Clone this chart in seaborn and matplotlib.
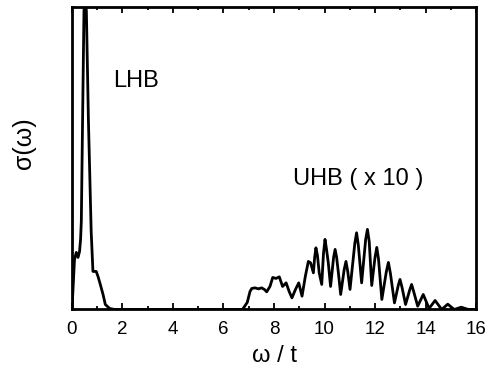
import matplotlib
matplotlib.use("Agg")
import matplotlib.pyplot as plt
import seaborn as sns
import pandas as pd
from matplotlib.ticker import MultipleLocator

# lower Hubbard band (arbitrary units)
lhb_omega = [0.0, 0.04, 0.10, 0.17, 0.24, 0.30, 0.34, 0.37, 0.42, 0.475, 0.52,
             0.57, 0.65, 0.76, 0.83, 0.96, 1.03, 1.10, 1.23, 1.32, 1.49, 1.69, 2.0]
lhb_sigma = [0, 20, 50, 57, 52, 58, 70, 88, 190, 298, 312,
             298, 190, 78, 38, 38, 33, 27, 15, 5, 1, 0, 0]

# upper Hubbard band, already multiplied by 10
uhb_omega = [6.75, 6.94, 7.05, 7.12, 7.25, 7.38, 7.51, 7.62, 7.71, 7.84, 7.95,
             8.08, 8.21, 8.34, 8.48, 8.60, 8.71, 8.85, 8.98, 9.11, 9.24, 9.36,
             9.45, 9.56, 9.61, 9.66, 9.72, 9.79, 9.89, 9.96, 10.02, 10.08,
             10.15, 10.24, 10.36, 10.42, 10.48, 10.55, 10.64, 10.78, 10.85,
             10.92, 11.01, 11.20, 11.27, 11.34, 11.47, 11.63, 11.70, 11.77,
             11.87, 12.00, 12.07, 12.14, 12.27, 12.45, 12.53, 12.61, 12.77,
             12.92, 12.99, 13.07, 13.21, 13.38, 13.45, 13.53, 13.69, 13.91,
             14.14, 14.38, 14.64, 14.88, 15.14, 15.41, 15.70, 16.0]
uhb_sigma = [0, 7, 18, 21, 21.6, 20.6, 21.6, 20, 17.6, 23, 32,
             31, 32.6, 23, 26.6, 18, 11.6, 20, 26.6, 13.3, 33, 48,
             46.6, 36.6, 52, 61.6, 54, 36.6, 25, 56, 70, 60,
             46.6, 23, 52, 60, 52, 36.6, 15, 40, 48,
             38, 20, 66, 76.6, 64, 26.6, 70, 80, 68,
             24, 52, 62, 50, 10, 38, 47, 36, 6.6,
             24, 30, 22, 5, 20, 25, 18, 3.3, 15,
             1, 9, 0, 5.3, 0, 2.3, 0, 0]

x_ticks = [0, 2, 4, 6, 8, 10, 12, 14, 16]

sns.set_style("ticks")
plt.rcParams["font.family"] = ["Liberation Sans", "DejaVu Sans"]
plt.rcParams["text.color"] = "black"
plt.rcParams["axes.labelcolor"] = "black"
plt.rcParams["xtick.color"] = "black"
plt.rcParams["axes.edgecolor"] = "black"

df = pd.DataFrame({
    "omega": lhb_omega + [2.5, 6.5] + uhb_omega,
    "sigma": lhb_sigma + [0, 0] + uhb_sigma,
})

fig = plt.figure(figsize=(4.91, 3.74), dpi=100)
ax = fig.add_axes([0.1466, 0.1725, 0.8229, 0.8085])

sns.lineplot(data=df, x="omega", y="sigma", ax=ax, color="black",
             linewidth=2.0, estimator=None, sort=False)
for line in ax.lines:
    line.set_solid_joinstyle("round")

ax.set_xlim(0, 16)
ax.set_ylim(0, 302)
ax.set_xticks(x_ticks)
ax.xaxis.set_minor_locator(MultipleLocator(1))
ax.set_yticks([])
ax.tick_params(axis="x", which="major", direction="in", length=4, width=1.3,
               top=True, labelsize=13.5, pad=8, colors="black")
ax.tick_params(axis="x", which="minor", direction="in", length=2.5, width=1.3,
               top=True, colors="black")
for sp in ax.spines.values():
    sp.set_linewidth(2)
    sp.set_visible(True)
    sp.set_color("black")

ax.set_xlabel("ω / t", fontsize=17, labelpad=5)
ax.set_ylabel("σ(ω)", fontsize=18)
ax.yaxis.set_label_coords(-0.088, 0.55)

ax.text(1.62, 228.5, "LHB", fontsize=17, ha="left", va="center")
ax.text(8.75, 130, "UHB ( x 10 )", fontsize=17, ha="left", va="center")

fig.savefig("out.png", dpi=100)
